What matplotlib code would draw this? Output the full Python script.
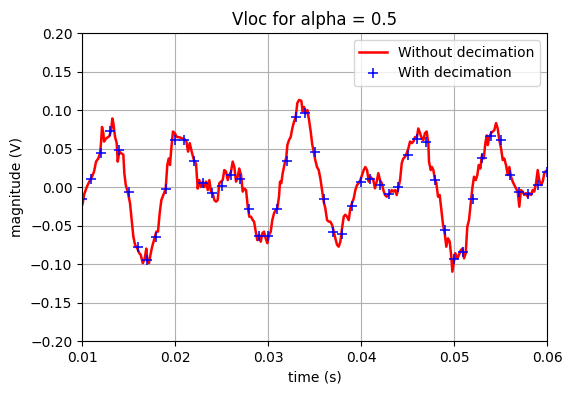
import numpy as np
import matplotlib
matplotlib.use('Agg')
import matplotlib.pyplot as plt

# full-rate signal
t_full = [0.01, 0.01008, 0.01022, 0.01051, 0.01078, 0.01104, 0.01129, 0.01151, 0.01175, 0.01194,
          0.01204, 0.01215, 0.01229, 0.01237, 0.01258, 0.01294, 0.01312, 0.01326, 0.01337, 0.01355,
          0.01373, 0.01384, 0.01401, 0.01419, 0.01444, 0.01455, 0.0147, 0.01491, 0.01516, 0.01534,
          0.01552, 0.0157, 0.01595, 0.01616, 0.01631, 0.01653, 0.01674, 0.01691, 0.01702, 0.0172,
          0.01739, 0.01753, 0.01774, 0.01799, 0.01817, 0.01835, 0.01853, 0.01882, 0.019, 0.01917,
          0.01932, 0.01946, 0.0196, 0.01978, 0.01997, 0.02018, 0.02051, 0.02078, 0.02104, 0.02122,
          0.0214, 0.02158, 0.02183, 0.02204, 0.02226, 0.02244, 0.02261, 0.0228, 0.02298, 0.02315,
          0.02333, 0.02352, 0.02369, 0.02387, 0.02405, 0.02423, 0.02441, 0.02459, 0.02476, 0.02495,
          0.02513, 0.0253, 0.02548, 0.02567, 0.02584, 0.02602, 0.0262, 0.02638, 0.02656, 0.02674,
          0.02691, 0.0271, 0.02728, 0.02745, 0.02764, 0.02782, 0.02799, 0.02817, 0.02836, 0.0285,
          0.02868, 0.02885, 0.02903, 0.02922, 0.02939, 0.02957, 0.02975, 0.02993, 0.03011, 0.03029,
          0.03046, 0.03065, 0.03083, 0.031, 0.03118, 0.03129, 0.03143, 0.03158, 0.0318, 0.03197,
          0.03208, 0.03226, 0.03244, 0.03261, 0.0328, 0.03298, 0.03315, 0.03333, 0.03358, 0.03373,
          0.03387, 0.03406, 0.03423, 0.03441, 0.03459, 0.03476, 0.03491, 0.03508, 0.03527, 0.03545,
          0.03563, 0.03581, 0.03599, 0.03616, 0.03635, 0.03653, 0.0367, 0.03688, 0.03707, 0.03724,
          0.03742, 0.0376, 0.03778, 0.03796, 0.03814, 0.03831, 0.0385, 0.03868, 0.03885, 0.03903,
          0.03922, 0.03939, 0.03957, 0.03975, 0.03993, 0.04011, 0.04029, 0.04046, 0.04065, 0.04083,
          0.041, 0.04118, 0.04132, 0.0415, 0.04169, 0.04186, 0.04204, 0.04223, 0.0424, 0.04258,
          0.04277, 0.04294, 0.04312, 0.0433, 0.04347, 0.04366, 0.04384, 0.04401, 0.0442, 0.04438,
          0.04455, 0.04473, 0.04492, 0.04509, 0.04527, 0.04545, 0.04563, 0.04581, 0.04599, 0.04616,
          0.04635, 0.04653, 0.0467, 0.04688, 0.04706, 0.04724, 0.04731, 0.0475, 0.04763, 0.04778,
          0.04793, 0.0481, 0.04828, 0.04846, 0.04864, 0.04882, 0.049, 0.04917, 0.04935, 0.04954,
          0.04971, 0.04982, 0.04997, 0.05014, 0.05036, 0.05054, 0.05072, 0.0509, 0.05108, 0.05126,
          0.05143, 0.05161, 0.0518, 0.05197, 0.05215, 0.05234, 0.05251, 0.05266, 0.05283, 0.05301,
          0.0532, 0.05337, 0.05352, 0.05363, 0.0538, 0.05398, 0.05416, 0.05434, 0.05452, 0.0547,
          0.05487, 0.05506, 0.05524, 0.05541, 0.05559, 0.05578, 0.05595, 0.05613, 0.05631, 0.05648,
          0.05667, 0.05685, 0.05702, 0.0572, 0.05738, 0.05756, 0.05774, 0.05792, 0.05809, 0.05828,
          0.05846, 0.05863, 0.05882, 0.059, 0.05917, 0.05935, 0.05954, 0.05971, 0.05989, 0.06]
v_full = [-0.024, -0.021, -0.010, 0.0, 0.007, 0.0126, 0.020, 0.033, 0.037, 0.044,
          0.057, 0.078, 0.070, 0.059, 0.063, 0.066, 0.073, 0.089, 0.083, 0.065,
          0.057, 0.033, 0.046, 0.044, 0.042, 0.018, 0.0026, -0.006, -0.021, -0.043,
          -0.0645, -0.075, -0.080, -0.086, -0.088, -0.099, -0.093, -0.080, -0.095, -0.099,
          -0.086, -0.078, -0.069, -0.058, -0.058, -0.034, -0.017, -0.008, -0.0017, 0.0286,
          0.037, 0.0286, 0.050, 0.072, 0.070, 0.065, 0.0645, 0.063, 0.062, 0.059,
          0.046, 0.057, 0.044, 0.035, 0.030, -0.002, 0.009, 0.0, 0.007, 0.0,
          0.007, -0.004, 0.009, -0.006, -0.008, -0.017, -0.019, -0.017, 0.005, 0.007,
          0.009, 0.022, 0.020, 0.009, 0.0156, 0.020, 0.033, 0.026, 0.007, 0.0134,
          0.024, 0.0156, -0.006, -0.002, -0.004, -0.0256, -0.0386, -0.0386, -0.043, -0.045,
          -0.058, -0.069, -0.062, -0.071, -0.060, -0.058, -0.0667, -0.073, -0.062, -0.058,
          -0.043, -0.034, -0.030, -0.0277, -0.0126, 0.007, 0.005, 0.018, 0.031, 0.039,
          0.0545, 0.061, 0.065, 0.076, 0.085, 0.091, 0.109, 0.113, 0.112, 0.098,
          0.104, 0.0957, 0.100, 0.087, 0.072, 0.055, 0.046, 0.035, 0.026, 0.022,
          0.011, -0.004, -0.019, -0.0277, -0.043, -0.045, -0.045, -0.049, -0.058, -0.0667,
          -0.075, -0.0775, -0.071, -0.0537, -0.0386, -0.036, -0.0386, -0.043, -0.0277, -0.021,
          -0.0147, -0.004, 0.0026, 0.005, 0.009, 0.0156, 0.022, 0.026, 0.022, 0.007,
          0.0134, 0.011, 0.009, -0.0017, 0.007, 0.018, 0.009, 0.005, -0.004, -0.0104,
          -0.0126, -0.0104, -0.008, -0.004, -0.006, -0.004, -0.0104, -0.0017, 0.009, 0.031,
          0.037, 0.039, 0.044, 0.050, 0.059, 0.057, 0.059, 0.065, 0.063, 0.076,
          0.070, 0.063, 0.061, 0.070, 0.072, 0.057, 0.033, 0.022, 0.026, 0.022,
          0.011, 0.005, -0.0126, -0.0104, -0.030, -0.049, -0.060, -0.0775, -0.0667, -0.071,
          -0.0905, -0.110, -0.099, -0.086, -0.0926, -0.088, -0.082, -0.080, -0.0926, -0.086,
          -0.0515, -0.043, -0.021, -0.0017, 0.0134, 0.009, 0.0156, 0.0286, 0.024, 0.0416,
          0.037, 0.057, 0.067, 0.0545, 0.065, 0.070, 0.072, 0.074, 0.083, 0.076,
          0.061, 0.050, 0.035, 0.037, 0.0286, 0.0156, 0.026, 0.0134, 0.007, 0.0026,
          -0.0017, -0.006, -0.0256, -0.004, -0.006, -0.0104, -0.008, -0.0126, -0.008, -0.0104,
          -0.004, -0.006, 0.005, 0.022, 0.009, 0.0026, 0.007, 0.018, 0.021, 0.021]

# decimated samples, one per ms
t_dec = [0.010, 0.011, 0.012, 0.013, 0.014, 0.015, 0.016, 0.017, 0.018, 0.019,
         0.020, 0.021, 0.022, 0.023, 0.024, 0.025, 0.026, 0.027, 0.028, 0.029,
         0.030, 0.031, 0.032, 0.033, 0.034, 0.035, 0.036, 0.037, 0.038, 0.039,
         0.040, 0.041, 0.042, 0.043, 0.044, 0.045, 0.046, 0.047, 0.048, 0.049,
         0.050, 0.051, 0.052, 0.053, 0.054, 0.055, 0.056, 0.057, 0.058, 0.059, 0.060]
v_dec = [-0.015, 0.011, 0.044, 0.073, 0.048, -0.007, -0.078, -0.095, -0.065, -0.002,
         0.061, 0.061, 0.034, 0.005, -0.008, 0.001, 0.016, 0.011, -0.029, -0.063,
         -0.063, -0.028, 0.034, 0.091, 0.096, 0.045, -0.015, -0.059, -0.061, -0.025,
         0.006, 0.011, 0.003, -0.0095, 0.0, 0.041, 0.062, 0.058, 0.009, -0.056,
         -0.094, -0.084, -0.016, 0.038, 0.066, 0.061, 0.016, -0.006, -0.0095, 0.002, 0.020]

fig = plt.figure(figsize=(5.72, 3.93), dpi=100)
ax = fig.add_axes([0.1434, 0.1323, 0.8129, 0.7837])
ax.plot(t_full, v_full, 'r-', linewidth=1.8, label="Without decimation")
ax.plot(t_dec, v_dec, 'b+', markersize=6.5, markeredgewidth=1.1, label="With decimation")
ax.set_xlim(0.01, 0.06)
ax.set_ylim(-0.2, 0.2)
ax.set_yticks(np.arange(-0.2, 0.201, 0.05))
ax.grid(True)
ax.set_title("Vloc for alpha = 0.5")
ax.set_xlabel("time (s)")
ax.set_ylabel("magnitude (V)")
ax.legend(loc='upper right')
fig.savefig("out.png", dpi=100)
